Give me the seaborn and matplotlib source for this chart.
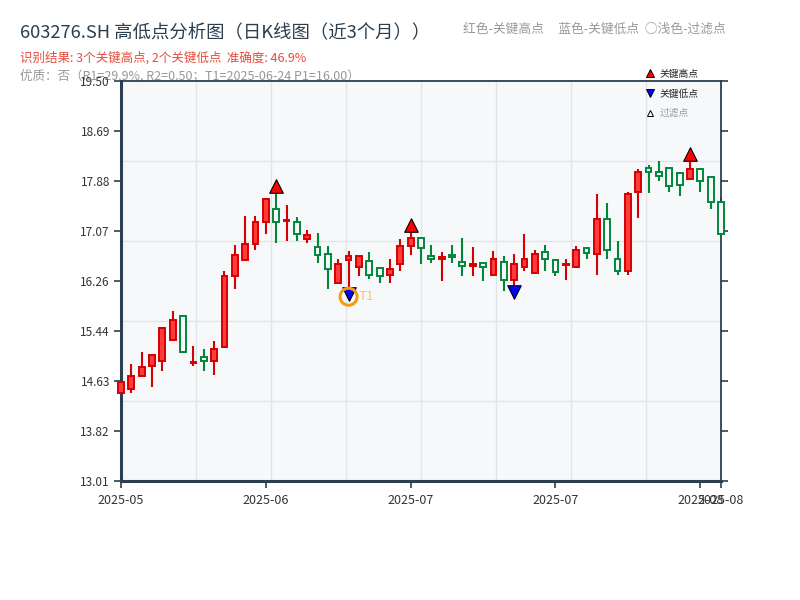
import numpy as np
import pandas as pd
import matplotlib
matplotlib.use("Agg")
import matplotlib.pyplot as plt
from matplotlib.lines import Line2D
import seaborn as sns

# ---------------- data ----------------
trade_dates = pd.bdate_range("2025-05-22", "2025-08-13")
trade_dates = trade_dates[trade_dates != pd.Timestamp("2025-06-02")]  # holiday

opens = [14.43, 14.51, 14.72, 14.87, 14.96, 15.29, 15.68, 14.92, 15.02, 14.96,
         15.19, 16.33, 16.59, 16.85, 17.21, 17.43, 17.23, 17.22, 16.93, 16.81,
         16.70, 16.23, 16.60, 16.49, 16.58, 16.46, 16.36, 16.53, 16.82, 16.96,
         16.66, 16.61, 16.68, 16.57, 16.50, 16.55, 16.36, 16.56, 16.27, 16.49,
         16.38, 16.73, 16.60, 16.52, 16.49, 16.79, 16.70, 17.26, 16.62, 16.41,
         17.70, 18.09, 18.02, 18.09, 18.00, 17.91, 18.08, 17.95, 17.53]
closes = [14.61, 14.71, 14.86, 15.05, 15.49, 15.62, 15.11, 14.94, 14.96, 15.15,
          16.34, 16.67, 16.85, 17.22, 17.58, 17.22, 17.24, 17.02, 17.00, 16.68,
          16.45, 16.53, 16.66, 16.66, 16.36, 16.34, 16.45, 16.82, 16.96, 16.79,
          16.61, 16.64, 16.65, 16.50, 16.53, 16.49, 16.62, 16.27, 16.53, 16.61,
          16.70, 16.61, 16.40, 16.53, 16.76, 16.71, 17.26, 16.76, 16.42, 17.67,
          18.02, 18.02, 17.96, 17.79, 17.81, 18.07, 17.88, 17.53, 17.01]
highs = [14.61, 14.91, 15.10, 15.05, 15.51, 15.77, 15.68, 15.20, 15.15, 15.28,
         16.42, 16.84, 17.31, 17.31, 17.60, 17.70, 17.49, 17.29, 17.09, 17.03,
         16.83, 16.61, 16.74, 16.66, 16.73, 16.46, 16.61, 16.94, 17.08, 16.97,
         16.84, 16.73, 16.84, 16.96, 16.81, 16.55, 16.74, 16.66, 16.69, 17.02,
         16.75, 16.84, 16.60, 16.61, 16.82, 16.79, 17.67, 17.52, 16.90, 17.70,
         18.08, 18.13, 18.20, 18.09, 18.02, 18.22, 18.09, 17.95, 17.61]
lows = [14.43, 14.44, 14.72, 14.54, 14.80, 15.29, 15.09, 14.87, 14.80, 14.73,
        15.19, 16.13, 16.59, 16.76, 17.01, 16.87, 16.91, 16.91, 16.87, 16.55,
        16.12, 16.23, 16.14, 16.34, 16.28, 16.22, 16.23, 16.41, 16.67, 16.53,
        16.54, 16.26, 16.54, 16.33, 16.34, 16.26, 16.34, 16.10, 16.17, 16.41,
        16.38, 16.41, 16.33, 16.27, 16.47, 16.61, 16.36, 16.62, 16.36, 16.36,
        17.27, 17.68, 17.87, 17.70, 17.64, 17.91, 17.70, 17.42, 17.01]

key_high_idx = [15, 28, 55]
key_low_idx = [22, 38]
t1_idx = 22
t1_price = 16.00

ytick_values = [13.01, 13.82, 14.63, 15.44, 16.26, 17.07, 17.88, 18.69, 19.50]
xtick_idx = [0, 14, 28, 42, 56, 58]

title = "603276.SH 高低点分析图（日K线图（近3个月））"
subtitle_red = "识别结果: 3个关键高点, 2个关键低点  准确度: 46.9%"
subtitle_gray = "优质：否（R1=29.9%, R2=0.50；T1=2025-06-24 P1=16.00）"
note_right = "红色-关键高点     蓝色-关键低点  ○浅色-过滤点"

# ---------------- style ----------------
sns.set_theme(style="white")
plt.rcParams["font.family"] = ["Noto Sans CJK SC", "DejaVu Sans"]
plt.rcParams["axes.unicode_minus"] = False

df = pd.DataFrame({"date": trade_dates, "open": opens, "close": closes,
                   "high": highs, "low": lows})
df["idx"] = np.arange(len(df))
df["up"] = df["close"] >= df["open"]

RED_FILL = "#ff3b3b"
RED_EDGE = "#d60000"
GREEN = "#00873a"
BG = "#f7f8fa"

fig = plt.figure(figsize=(8, 6), dpi=100)
ax = fig.add_axes([121 / 800, 119 / 600, 600 / 800, 400 / 600])
ax.set_facecolor(BG)

# grid (8 x 5 split)
for f in np.arange(1, 8) / 8:
    ax.plot([f, f], [0, 1], transform=ax.transAxes, color="#e1e4e8", lw=1, zorder=0)
for f in np.arange(1, 5) / 5:
    ax.plot([0, 1], [f, f], transform=ax.transAxes, color="#e1e4e8", lw=1, zorder=0)

edge_colors = np.where(df["up"], RED_EDGE, GREEN)
face_colors = np.where(df["up"], RED_FILL, BG)

# wicks
ax.vlines(df["idx"], df["low"], df["high"], colors=edge_colors, lw=1.5,
          zorder=2, clip_on=False)
# bodies
body_bottom = np.minimum(df["open"], df["close"])
body_height = np.abs(df["close"] - df["open"])
ax.bar(df["idx"], body_height, bottom=body_bottom, width=0.56,
       color=face_colors, edgecolor=edge_colors, linewidth=1.4,
       zorder=3, clip_on=False)

# key points
kh = df.loc[key_high_idx].assign(y=lambda d: d["high"] * 1.0052)
kl = df.loc[key_low_idx].assign(y=lambda d: d["low"] * 0.9942)
sns.scatterplot(data=kh, x="idx", y="y", marker="^", s=95, color="#ff0000",
                edgecolor="black", linewidth=0.8, ax=ax, zorder=5, clip_on=False)
sns.scatterplot(data=kl, x="idx", y="y", marker="v", s=95, color="#0000ff",
                edgecolor="black", linewidth=0.8, ax=ax, zorder=5, clip_on=False)

# T1 ring
ax.scatter([t1_idx], [t1_price], s=150, facecolors="none", edgecolors="#f39c12",
           linewidths=2.2, zorder=6)
ax.text(t1_idx + 1.0, t1_price, "T1", color="#f39c12", alpha=0.55,
        fontsize=9.5, va="center", ha="left", zorder=6)

# axes limits & ticks
ax.set_xlim(0, len(df) - 1)
ax.set_ylim(ytick_values[0], ytick_values[-1])
ax.set_yticks(ytick_values)
ax.set_yticklabels([f"{v:.2f}" for v in ytick_values])
ax.set_xticks(xtick_idx)
ax.set_xticklabels([df["date"].iloc[i].strftime("%Y-%m") for i in xtick_idx])
ax.set_xlabel("")
ax.set_ylabel("")
ax.tick_params(axis="both", which="both", direction="out", length=5, width=1.2,
               color="#2c3e50", labelsize=8.5, labelcolor="#333333", pad=3)
ax.tick_params(axis="x", labelsize=9, pad=4)
ax.tick_params(axis="y", right=True, left=True, labelright=False)
ax.tick_params(axis="x", bottom=True, top=False)

for side in ["left", "bottom"]:
    ax.spines[side].set_color("#2c3e50")
    ax.spines[side].set_linewidth(2.2)
for side in ["top", "right"]:
    ax.spines[side].set_color("#2c3e50")
    ax.spines[side].set_linewidth(1.3)
    ax.spines[side].set_visible(True)

# legend
handles = [
    Line2D([], [], marker="^", ls="none", markersize=6, markerfacecolor="#ff0000",
           markeredgecolor="black", markeredgewidth=0.7),
    Line2D([], [], marker="v", ls="none", markersize=6, markerfacecolor="#0000ff",
           markeredgecolor="black", markeredgewidth=0.7),
    Line2D([], [], marker="^", ls="none", markersize=5, markerfacecolor="white",
           markeredgecolor="black", markeredgewidth=0.7),
]
leg = fig.legend(handles, ["关键高点", "关键低点", "过滤点"], loc="upper left",
                 bbox_to_anchor=(638 / 800, 1 - 62 / 600), frameon=False,
                 fontsize=7, handlelength=1.0, handletextpad=0.5,
                 labelspacing=1.0, borderpad=0.2)
for t, c in zip(leg.get_texts(), ["#222222", "#222222", "#999999"]):
    t.set_color(c)

# titles / notes
fig.text(20 / 800, 1 - 33 / 600, title, fontsize=13.2, color="#2c3e50",
         ha="left", va="center")
fig.text(20 / 800, 1 - 58 / 600, subtitle_red, fontsize=9, color="#e74c3c",
         ha="left", va="center")
fig.text(20 / 800, 1 - 76 / 600, subtitle_gray, fontsize=9, color="#999999",
         ha="left", va="center", zorder=-1)
fig.text(726 / 800, 1 - 29 / 600, note_right, fontsize=9.2, color="#999999",
         ha="right", va="center")

fig.savefig("out.png", dpi=100, facecolor="white")
